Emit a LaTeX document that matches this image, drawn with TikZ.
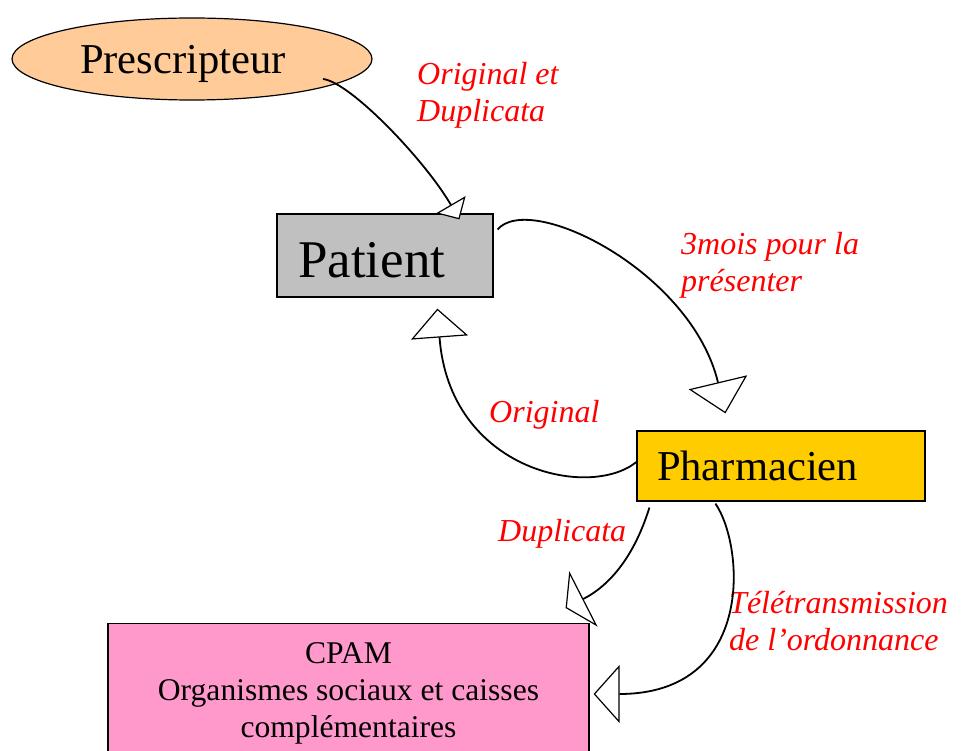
\documentclass[tikz,border=0pt]{standalone}
\usepackage{fontspec}
\setmainfont{Liberation Serif}
\usetikzlibrary{arrows.meta,shapes.geometric,calc}
\definecolor{peach}{HTML}{FFCC99}
\definecolor{greybox}{HTML}{C0C0C0}
\definecolor{gold}{HTML}{FFCC00}
\definecolor{pinkbox}{HTML}{FF99CC}
\definecolor{labred}{HTML}{FF0000}
\tikzset{
  boxshape/.style={draw=black, line width=1.2pt, rectangle, inner ysep=0pt},
  lab/.style={text=labred, font=\fontsize{32}{37}\selectfont\itshape, align=left, anchor=base west, inner sep=0pt},
  conn/.style={draw=black, line width=1.8pt},
  headtip/.style n args={2}{-{Triangle[length=#1pt, width=#2pt, fill=white, line width=1.2pt]}}
}
\begin{document}
\begin{tikzpicture}[x=1pt, y=-1pt]
\clip (0,0) rectangle (961,751);
\fill[white] (0,0) rectangle (961,751);

\node[ellipse, draw=black, line width=1.2pt, fill=peach, minimum width=360pt, minimum height=82pt,
      inner sep=0pt, text width=224pt, align=left, text depth=0pt,
      font=\fontsize{42.6}{48}\selectfont] (pres) at (192,59) {Prescripteur};

\node[boxshape, fill=greybox, minimum width=216pt, minimum height=83pt,
      inner xsep=21pt, text width=174pt, align=left, text height=45pt, text depth=0pt,
      font=\fontsize{53}{60}\selectfont] (patient) at (385,255.5) {Patient};

\node[boxshape, fill=gold, minimum width=288pt, minimum height=70pt,
      inner xsep=20pt, text width=248pt, align=left,
      font=\fontsize{42.6}{48}\selectfont] (pharm) at (781,466) {Pharmacien};

\node[boxshape, fill=pinkbox, anchor=north, minimum width=481pt, inner ysep=19pt,
      align=center, font=\fontsize{31.6}{37}\selectfont] (cpam) at (348.5,623)
      {CPAM\\Organismes sociaux et caisses\\complémentaires};

\node[lab] (l1) at (417,122) {Original et\\Duplicata};
\node[lab] (l2) at (681,292) {3mois pour la\\présenter};
\node[lab] (l3) at (489,422) {Original};
\node[lab] (l4) at (498,541) {Duplicata};
\node[lab] (l5) at (729,650) {Télétransmission\\de l’ordonnance};

\coordinate (s1) at ($(pres.center)+(131,20)$);
\coordinate (t1) at ($(patient.north west)+(183,6)$);
\coordinate (s2) at ($(patient.north east)+(4,16)$);
\coordinate (t2) at ($(pharm.north west)+(89,-17)$);
\coordinate (s3) at ($(pharm.west)+(0,-4)$);
\coordinate (t3) at ($(patient.south west)+(161,11)$);
\coordinate (s4) at ($(pharm.south west)+(13,6)$);
\coordinate (t4) at ($(cpam.north east)+(-24,-15)$);
\coordinate (s5) at ($(pharm.south west)+(79,2)$);
\coordinate (t5) at ($(cpam.north east)+(4,71)$);

\draw[conn, headtip={17}{34}] (s1) .. controls +(27,3) and +(-35,-60) .. (t1);
\draw[conn, headtip={32}{60}] (s2) .. controls +(33,-38) and +(-34,-142) .. (t2);
\draw[conn, headtip={29}{57}] (s3) .. controls +(-47,38) and +(12,162) .. (t3);
\draw[conn, headtip={20}{62}] (s4) .. controls +(-15,48) and +(45,-23) .. (t4);
\draw[conn, headtip={26}{58}] (s5) .. controls +(29,42) and +(162,0) .. (t5);
\end{tikzpicture}
\end{document}
